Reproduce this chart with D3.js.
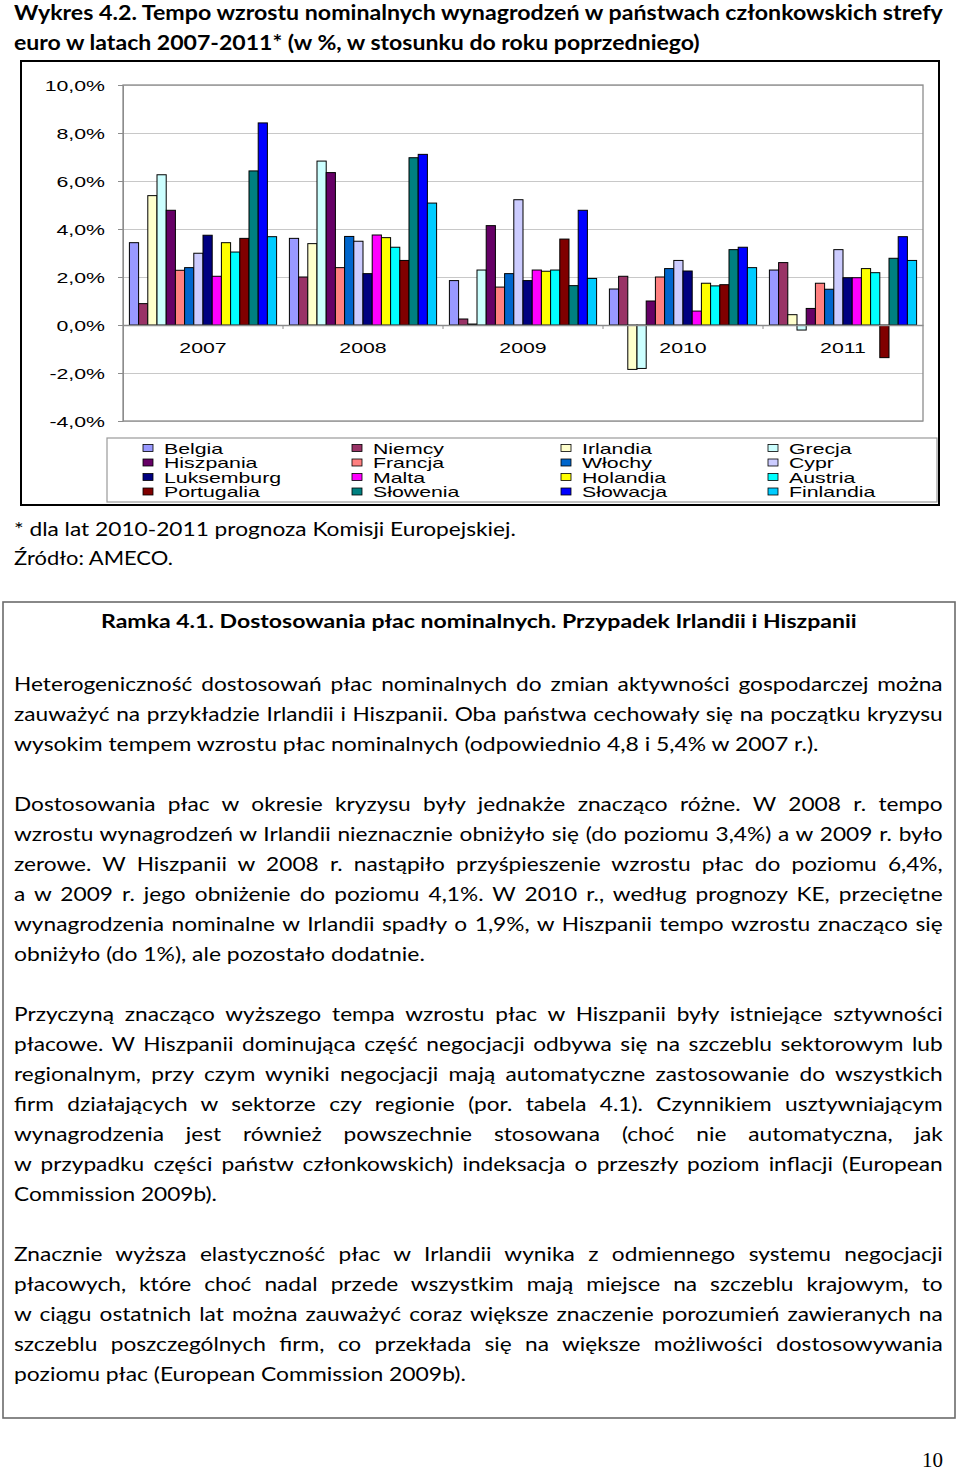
<!DOCTYPE html>
<html>
<head>
<meta charset="utf-8">
<script src="https://cdn.jsdelivr.net/npm/d3@7"></script>
<style>
body { margin: 0; background: #fff; }
svg { display: block; }
</style>
</head>
<body>
<svg id="page"></svg>
<script>
// categories (years) and series (countries), series in Excel order
var years = ["2007", "2008", "2009", "2010", "2011"];
var countries = ["Belgia", "Niemcy", "Irlandia", "Grecja", "Hiszpania", "Francja", "Włochy", "Cypr",
                 "Luksemburg", "Malta", "Holandia", "Austria", "Portugalia", "Słowenia", "Słowacja", "Finlandia"];
var colors = ["#9999ff", "#993366", "#ffffcc", "#ccffff", "#660066", "#ff8080", "#0066cc", "#ccccff",
              "#000080", "#ff00ff", "#ffff00", "#00ffff", "#800000", "#008080", "#0000ff", "#00ccff"];

// growth of nominal wages, % y/y
var v2007 = [3.43, 0.89, 5.39, 6.26, 4.78, 2.28, 2.39, 2.99, 3.74, 2.03, 3.43, 3.04, 3.61, 6.42, 8.42, 3.68];
var v2008 = [3.61, 2.00, 3.39, 6.83, 6.35, 2.39, 3.69, 3.49, 2.14, 3.75, 3.64, 3.24, 2.69, 6.97, 7.11, 5.08];
var v2009 = [1.85, 0.25, 0.04, 2.29, 4.14, 1.58, 2.14, 5.22, 1.85, 2.29, 2.24, 2.29, 3.58, 1.64, 4.78, 1.94];
var v2010 = [1.50, 2.03, -1.85, -1.81, 1.00, 2.00, 2.35, 2.69, 2.25, 0.58, 1.74, 1.63, 1.68, 3.14, 3.24, 2.39];
var v2011 = [2.29, 2.60, 0.43, -0.21, 0.69, 1.74, 1.49, 3.14, 1.97, 1.97, 2.35, 2.18, -1.36, 2.78, 3.68, 2.69];
var yTicks = [-4, -2, 0, 2, 4, 6, 8, 10];

// texts of the page
var titleLines = ["Wykres 4.2. Tempo wzrostu nominalnych wynagrodzeń w państwach członkowskich strefy",
                  "euro w latach 2007-2011* (w %, w stosunku do roku poprzedniego)"];
var noteLines = ["* dla lat 2010-2011 prognoza Komisji Europejskiej.", "Źródło: AMECO."];
var boxTitle = "Ramka 4.1. Dostosowania płac nominalnych. Przypadek Irlandii i Hiszpanii";
var para1 = ["Heterogeniczność dostosowań płac nominalnych do zmian aktywności gospodarczej można",
             "zauważyć na przykładzie Irlandii i Hiszpanii. Oba państwa cechowały się na początku kryzysu",
             "wysokim tempem wzrostu płac nominalnych (odpowiednio 4,8 i 5,4% w 2007 r.)."];
var para2 = ["Dostosowania płac w okresie kryzysu były jednakże znacząco różne. W 2008 r. tempo",
             "wzrostu wynagrodzeń w Irlandii nieznacznie obniżyło się (do poziomu 3,4%) a w 2009 r. było",
             "zerowe. W Hiszpanii w 2008 r. nastąpiło przyśpieszenie wzrostu płac do poziomu 6,4%,",
             "a w 2009 r. jego obniżenie do poziomu 4,1%. W 2010 r., według prognozy KE, przeciętne",
             "wynagrodzenia nominalne w Irlandii spadły o 1,9%, w Hiszpanii tempo wzrostu znacząco się",
             "obniżyło (do 1%), ale pozostało dodatnie."];
var para3 = ["Przyczyną znacząco wyższego tempa wzrostu płac w Hiszpanii były istniejące sztywności",
             "płacowe. W Hiszpanii dominująca część negocjacji odbywa się na szczeblu sektorowym lub",
             "regionalnym, przy czym wyniki negocjacji mają automatyczne zastosowanie do wszystkich",
             "firm działających w sektorze czy regionie (por. tabela 4.1). Czynnikiem usztywniającym",
             "wynagrodzenia jest również powszechnie stosowana (choć nie automatyczna, jak",
             "w przypadku części państw członkowskich) indeksacja o przeszły poziom inflacji (European",
             "Commission 2009b)."];
var para4 = ["Znacznie wyższa elastyczność płac w Irlandii wynika z odmiennego systemu negocjacji",
             "płacowych, które choć nadal przede wszystkim mają miejsce na szczeblu krajowym, to",
             "w ciągu ostatnich lat można zauważyć coraz większe znaczenie porozumień zawieranych na",
             "szczeblu poszczególnych firm, co przekłada się na większe możliwości dostosowywania",
             "poziomu płac (European Commission 2009b)."];

var series = [v2007, v2008, v2009, v2010, v2011];

var W = 960, H = 1471;
var svg = d3.select("#page").attr("width", W).attr("height", H);
svg.append("rect").attr("width", W).attr("height", H).attr("fill", "#fff");

var chartFont = "'Liberation Sans', Arial, sans-serif";
var bodyFont = "Lato, 'Noto Sans', sans-serif";
var stretch = 1.42; // the chart picture is stretched sideways

document.fonts.ready.then(function() {
    drawChart();
    drawTexts();
});

function drawChart() {
    // outer frame of the chart
    svg.append("rect")
        .attr("x", 21).attr("y", 61).attr("width", 918).attr("height", 444)
        .attr("fill", "none").attr("stroke", "#000").attr("stroke-width", 2);

    var left = 123, right = 923, top = 85, bottom = 421;

    var y = d3.scaleLinear().domain([-4, 10]).range([bottom, top]);
    var x0 = d3.scaleBand().domain(years).range([left, right])
        .paddingInner(0.08).paddingOuter(0.04);
    var x1 = d3.scaleBand().domain(d3.range(countries.length)).range([0, x0.bandwidth()]);

    // gridlines
    svg.append("g")
        .attr("transform", "translate(" + left + ",0)")
        .call(d3.axisLeft(y).tickValues(yTicks).tickSize(-(right - left)).tickFormat(""))
        .call(function(g) {
            g.select(".domain").remove();
            g.selectAll("line").attr("stroke", "#c8c8c8");
        });

    // plot area border
    svg.append("rect")
        .attr("x", left).attr("y", top).attr("width", right - left).attr("height", bottom - top)
        .attr("fill", "none").attr("stroke", "#8c8c8c").attr("stroke-width", 1.3);

    // y axis with labels
    svg.append("g")
        .attr("transform", "translate(" + left + ",0)")
        .call(d3.axisLeft(y).tickValues(yTicks).tickSize(5).tickSizeOuter(0)
            .tickFormat(function(d) { return d.toFixed(1).replace(".", ",") + "%"; }))
        .call(function(g) {
            g.select(".domain").attr("stroke", "#8c8c8c");
            g.selectAll("line").attr("stroke", "#8c8c8c");
            g.selectAll("text")
                .attr("x", -18 / stretch)
                .attr("dy", "0.36em")
                .attr("transform", "scale(" + stretch + ",1)")
                .style("font-family", chartFont)
                .style("font-size", "15px")
                .attr("fill", "#000");
        });

    // bars
    var groups = svg.append("g").selectAll("g")
        .data(years)
        .enter().append("g")
        .attr("transform", function(d) { return "translate(" + x0(d) + ",0)"; });

    groups.selectAll("rect")
        .data(function(d, i) { return series[i].map(function(v, j) { return {v: v, j: j}; }); })
        .enter().append("rect")
        .attr("x", function(d) { return x1(d.j); })
        .attr("width", x1.bandwidth())
        .attr("y", function(d) { return y(Math.max(0, d.v)); })
        .attr("height", function(d) { return Math.abs(y(d.v) - y(0)); })
        .attr("fill", function(d) { return colors[d.j]; })
        .attr("stroke", "#000")
        .attr("stroke-width", 1);

    // category axis on the zero line
    svg.append("g")
        .attr("transform", "translate(0," + y(0) + ")")
        .call(d3.axisBottom(x0).tickSize(0))
        .call(function(g) {
            g.select(".domain").attr("stroke", "#8c8c8c").attr("stroke-width", 1.3);
            g.selectAll("text")
                .attr("y", 28).attr("dy", 0)
                .attr("transform", "scale(" + stretch + ",1)")
                .style("font-family", chartFont)
                .style("font-size", "15px")
                .attr("fill", "#000");
        });

    // small tick marks between categories
    svg.append("g").selectAll("line")
        .data(years.slice(1))
        .enter().append("line")
        .attr("x1", function(d) { return x0(d) - x0.step() * x0.paddingInner() / 2; })
        .attr("x2", function(d) { return x0(d) - x0.step() * x0.paddingInner() / 2; })
        .attr("y1", y(0)).attr("y2", y(0) + 4)
        .attr("stroke", "#8c8c8c");

    // legend
    svg.append("rect")
        .attr("x", 107).attr("y", 438).attr("width", 830).attr("height", 64)
        .attr("fill", "none").attr("stroke", "#9a9a9a").attr("stroke-width", 1.2);

    var colX = [143, 352, 561, 768];
    var legend = svg.append("g").selectAll("g")
        .data(countries)
        .enter().append("g")
        .attr("transform", function(d, i) {
            return "translate(" + colX[i % 4] + "," + (448 + Math.floor(i / 4) * 14.5) + ")";
        });
    legend.append("rect")
        .attr("x", 0).attr("y", -3.5).attr("width", 10).attr("height", 7)
        .attr("fill", function(d, i) { return colors[i]; })
        .attr("stroke", "#000").attr("stroke-width", 0.8);
    legend.append("text")
        .attr("transform", "translate(21,5.5) scale(" + stretch + ",1)")
        .style("font-family", chartFont)
        .style("font-size", "15px")
        .text(function(d) { return d; });
}

function drawTexts() {
    var g = svg.append("g");

    function measure(str, size, weight) {
        var t = g.append("text")
            .style("font-family", bodyFont).style("font-size", size + "px")
            .style("font-weight", weight).text(str);
        var w = t.node().getComputedTextLength();
        t.remove();
        return w;
    }

    // free lines get their own squeeze; justified lines share one and spread words
    var freeLines = [
        {t: noteLines[0], x: 14, end: 516}, {t: noteLines[1], x: 14, end: 173},
        {t: para1[2], x: 14, end: 819}, {t: para2[5], x: 14, end: 425},
        {t: para3[6], x: 14, end: 217}, {t: para4[4], x: 14, end: 466}
    ];
    var body = 18.5;
    var scales = freeLines.map(function(l) { return (l.end - l.x) / measure(l.t, body, 400); });
    var sBody = d3.mean(scales);

    function line(str, x, baseline, size, weight, end, justify) {
        var t = g.append("text")
            .style("font-family", bodyFont).style("font-size", size + "px")
            .style("font-weight", weight).attr("fill", "#000").text(str);
        var w = t.node().getComputedTextLength();
        var s, ws = 0;
        if (justify) {
            s = sBody;
            var spaces = (str.match(/ /g) || []).length;
            ws = ((end - x) / s - w) / spaces;
        } else {
            s = (end - x) / w;
        }
        t.style("word-spacing", ws + "px")
            .attr("transform", "translate(" + x + "," + baseline + ") scale(" + s + ",1)");
    }

    line(titleLines[0], 14, 19.5, 20.5, 700, 943, false);
    line(titleLines[1], 14, 49.5, 20.5, 700, 700, false);

    line(noteLines[0], 14, 536, body, 400, 516, false);
    line(noteLines[1], 14, 565, body, 400, 173, false);

    // text box
    g.append("rect")
        .attr("x", 3).attr("y", 602).attr("width", 952).attr("height", 816)
        .attr("fill", "none").attr("stroke", "#6b6b6b").attr("stroke-width", 1.6);

    line(boxTitle, 101, 628, 19.5, 700, 857, false);

    var paras = [
        {lines: para1, top: 691, ends: {2: 819}},
        {lines: para2, top: 811, ends: {5: 425}},
        {lines: para3, top: 1021, ends: {6: 217}},
        {lines: para4, top: 1261, ends: {4: 466}}
    ];
    paras.forEach(function(p) {
        p.lines.forEach(function(str, i) {
            var last = i === p.lines.length - 1;
            line(str, 14, p.top + i * 30, body, 400, last ? p.ends[i] : 943, !last);
        });
    });

    // page number
    g.append("text")
        .attr("x", 943).attr("y", 1467)
        .attr("text-anchor", "end")
        .style("font-family", "'Liberation Serif', serif")
        .style("font-size", "21px")
        .text("10");
}
</script>
</body>
</html>
